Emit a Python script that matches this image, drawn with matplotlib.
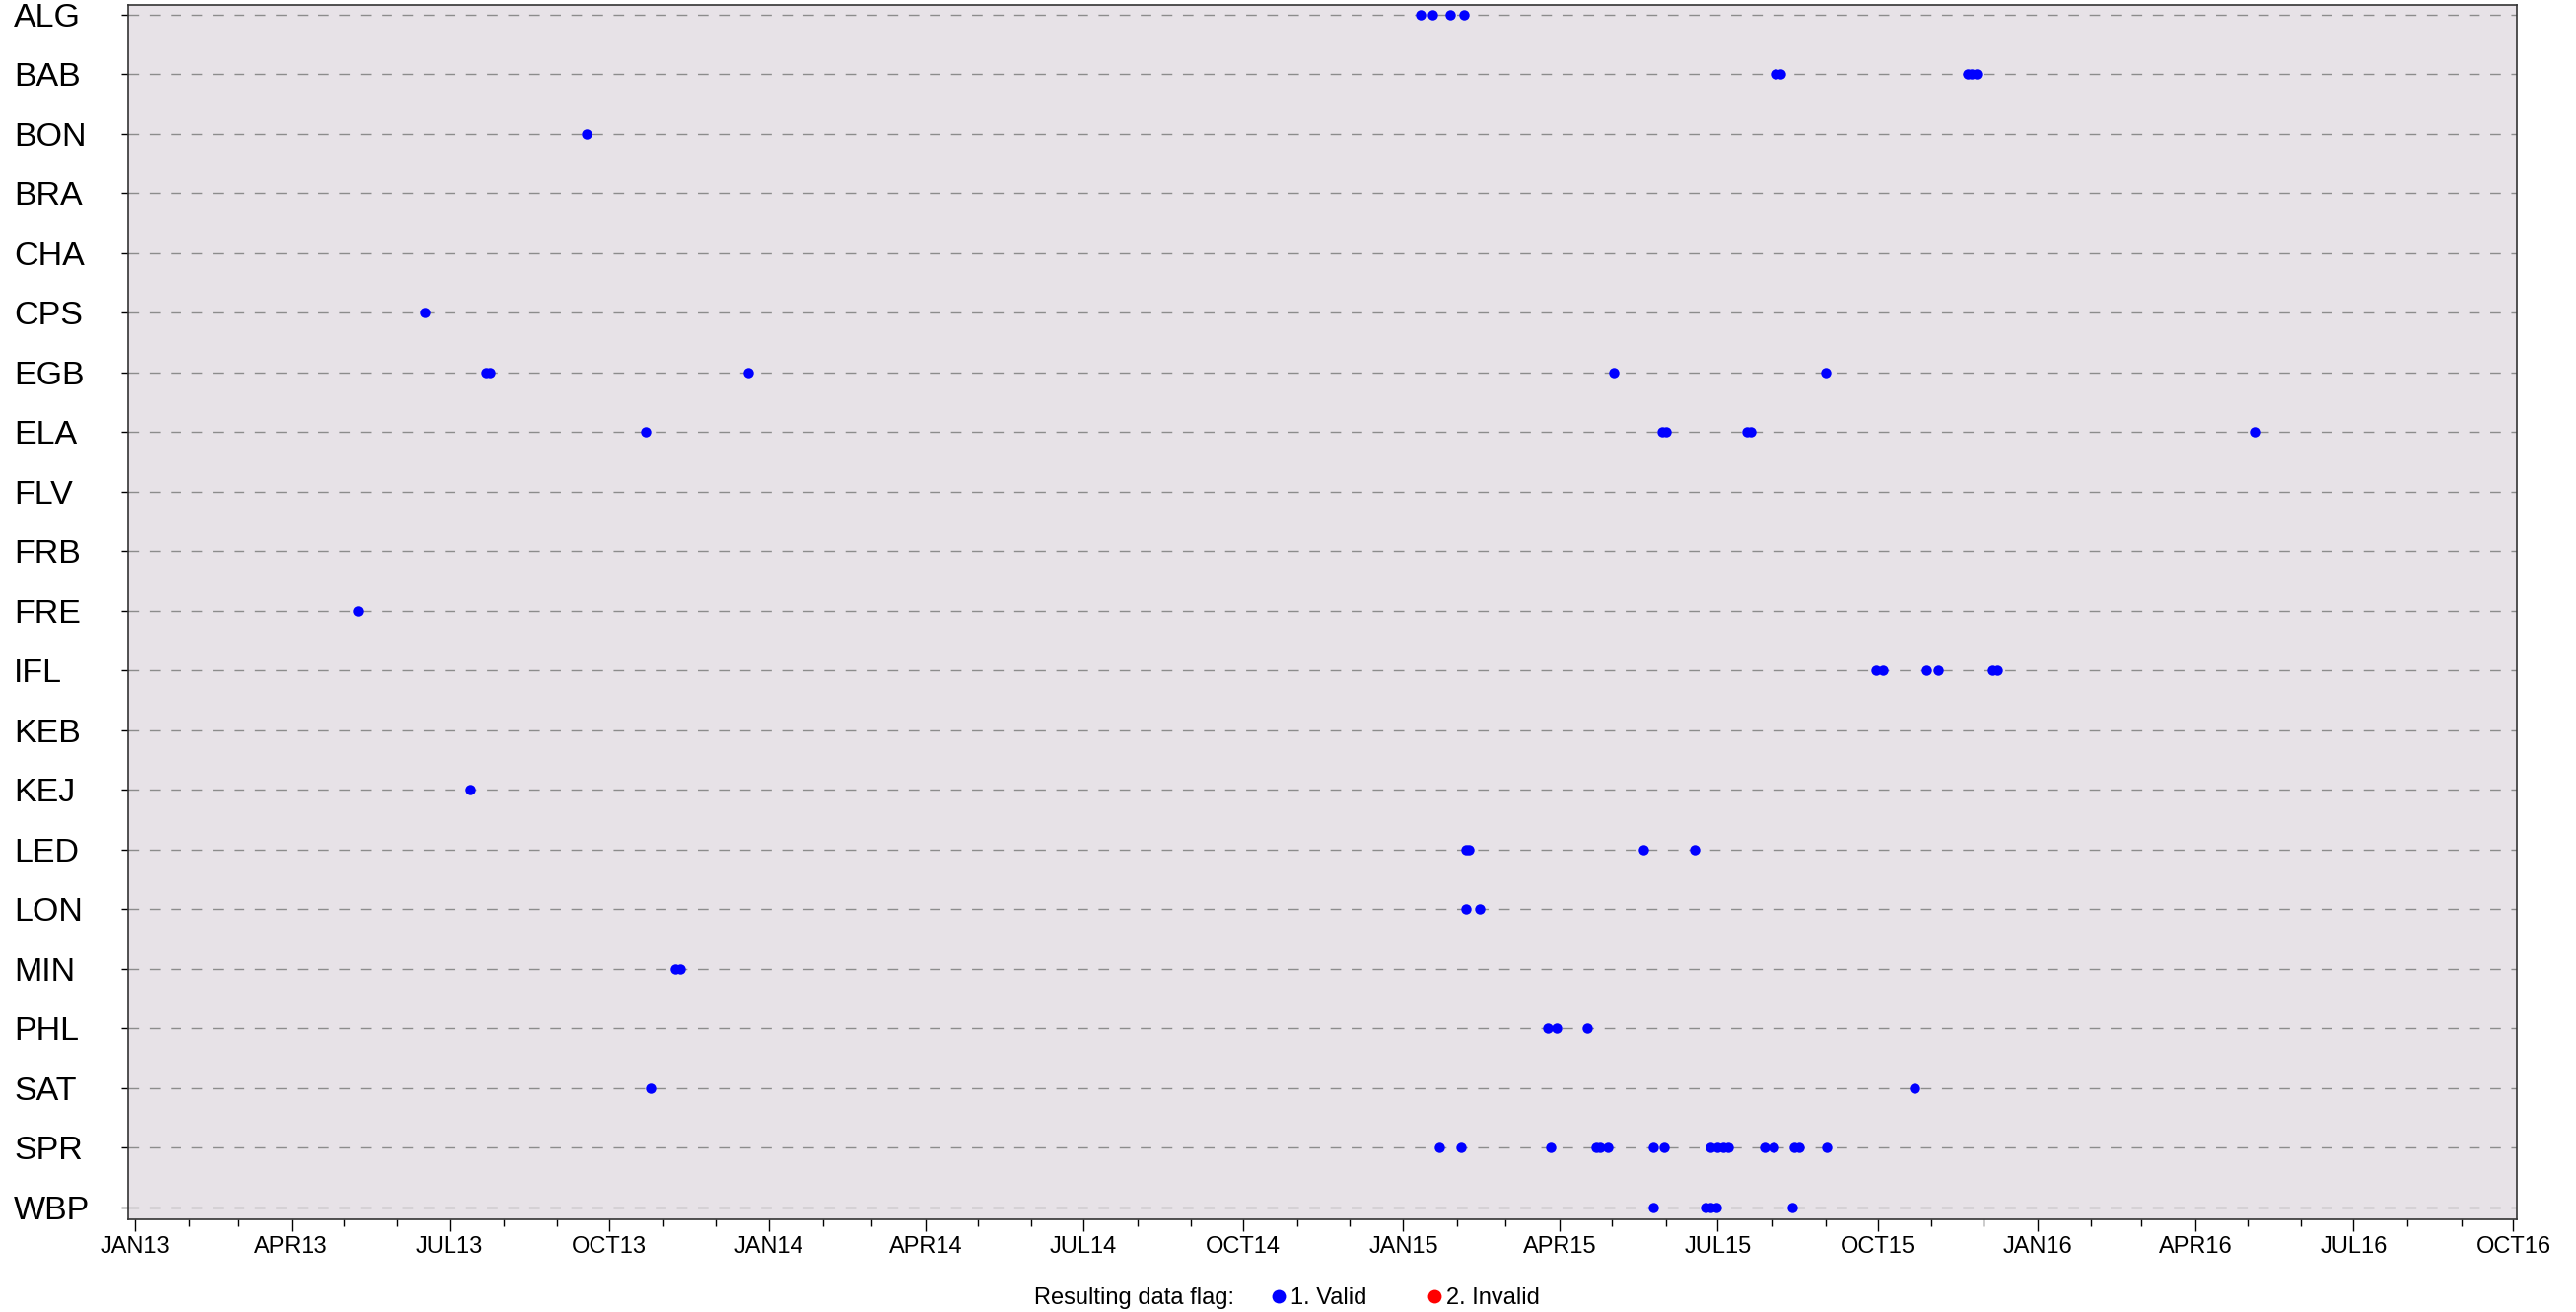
# Data-flag timeline per station
import numpy as np
import matplotlib
matplotlib.use('Agg')
import matplotlib.pyplot as plt
import matplotlib.dates as mdates
from matplotlib.lines import Line2D
from matplotlib.ticker import FuncFormatter
from matplotlib import font_manager

stations = ['ALG', 'BAB', 'BON', 'BRA', 'CHA', 'CPS', 'EGB', 'ELA', 'FLV', 'FRB',
            'FRE', 'IFL', 'KEB', 'KEJ', 'LED', 'LON', 'MIN', 'PHL', 'SAT', 'SPR', 'WBP']

# dates flagged "1. Valid" per station
alg = ['2015-01-11', '2015-01-18', '2015-01-28', '2015-02-05']
bab = ['2015-08-03', '2015-08-06', '2015-11-22', '2015-11-24', '2015-11-27']
bon = ['2013-09-18']
bra = []
cha = []
cps = ['2013-06-17']
egb = ['2013-07-22', '2013-07-24', '2013-12-20', '2015-05-02', '2015-09-01']
ela = ['2013-10-22', '2015-05-30', '2015-06-01', '2015-07-18', '2015-07-20', '2016-05-05']
flv = []
frb = []
fre = ['2013-05-09']
ifl = ['2015-09-30', '2015-10-04', '2015-10-29', '2015-11-05', '2015-12-06', '2015-12-09']
keb = []
kej = ['2013-07-13']
led = ['2015-02-06', '2015-02-08', '2015-05-19', '2015-06-18']
lon = ['2015-02-06', '2015-02-14']
mnn = ['2013-11-08', '2013-11-11']
phl = ['2015-03-25', '2015-03-30', '2015-04-17']
sat = ['2013-10-25', '2015-10-22']
spr = ['2015-01-22', '2015-02-03', '2015-03-27', '2015-04-22', '2015-04-24', '2015-04-29',
       '2015-05-25', '2015-05-31', '2015-06-27', '2015-07-01', '2015-07-04', '2015-07-07',
       '2015-07-28', '2015-08-02', '2015-08-14', '2015-08-17', '2015-09-02']
wbp = ['2015-05-25', '2015-06-24', '2015-06-27', '2015-06-30', '2015-08-13']

valid = [alg, bab, bon, bra, cha, cps, egb, ela, flv, frb, fre, ifl, keb, kej,
         led, lon, mnn, phl, sat, spr, wbp]
invalid = [[] for _ in stations]

legend_title = 'Resulting data flag:'
legend_labels = ['1. Valid', '2. Invalid']

# fonts
names = {f.name for f in font_manager.fontManager.ttflist}
if 'Liberation Sans Narrow' in names:
    narrow, small = 'Liberation Sans Narrow', 20
else:
    narrow, small = 'Liberation Sans', 17

W, H = 2613, 1331
fig = plt.figure(figsize=(W / 100, H / 100), dpi=100)
ax = fig.add_axes([130 / W, 1 - 1237 / H, (2553 - 130) / W, (1237 - 5) / H])
ax.set_facecolor('#E7E2E7')

for i, st in enumerate(stations):
    ax.axhline(i, color='#8c8c8c', lw=1.0, ls=(0, (7.7, 7.7)), zorder=1)
    d = np.array(valid[i], dtype='datetime64[D]')
    if len(d):
        ax.plot(d, np.full(len(d), i), 'o', color='#0000FF', ms=7.5, mec='none', zorder=3)
    d = np.array(invalid[i], dtype='datetime64[D]')
    if len(d):
        ax.plot(d, np.full(len(d), i), 'o', color='#FF0000', ms=7.5, mec='none', zorder=3)

ax.set_xlim(np.datetime64('2012-12-28'), np.datetime64('2016-10-03'))
ax.set_ylim(20.2, -0.165)

ax.set_yticks(range(len(stations)))
ax.set_yticklabels(stations, family='Liberation Sans', fontsize=24.5)
ax.tick_params(axis='y', length=5, width=1, pad=78.5)
for lab in ax.get_yticklabels():
    lab.set_horizontalalignment('left')

ax.xaxis.set_major_locator(mdates.MonthLocator(bymonth=[1, 4, 7, 10]))
ax.xaxis.set_minor_locator(mdates.MonthLocator())
ax.xaxis.set_major_formatter(FuncFormatter(lambda x, p: mdates.num2date(x).strftime('%b%y').upper()))
ax.tick_params(axis='x', which='major', length=8.6, width=1, pad=3.5, labelsize=small)
ax.tick_params(axis='x', which='minor', length=5, width=1)
for lab in ax.get_xticklabels():
    lab.set_family(narrow)

for s in ax.spines.values():
    s.set_color('#333333')
    s.set_linewidth(1.2)

# legend row at the bottom
ly = 1 - 1317 / H
fig.text(1049 / W, ly, legend_title, ha='left', va='center', family=narrow, fontsize=small)
handles = [Line2D([], [], ls='', marker='o', color='#0000FF', ms=10, mec='none'),
           Line2D([], [], ls='', marker='o', color='#FF0000', ms=10, mec='none')]
fig.legend(handles, legend_labels, loc='center left', bbox_to_anchor=(1290 / W, ly),
           ncol=2, frameon=False, borderpad=0, borderaxespad=0, handlelength=0.6,
           handletextpad=0.2, columnspacing=2.6, prop={'family': narrow, 'size': small})

fig.savefig('out.png', dpi=100)
